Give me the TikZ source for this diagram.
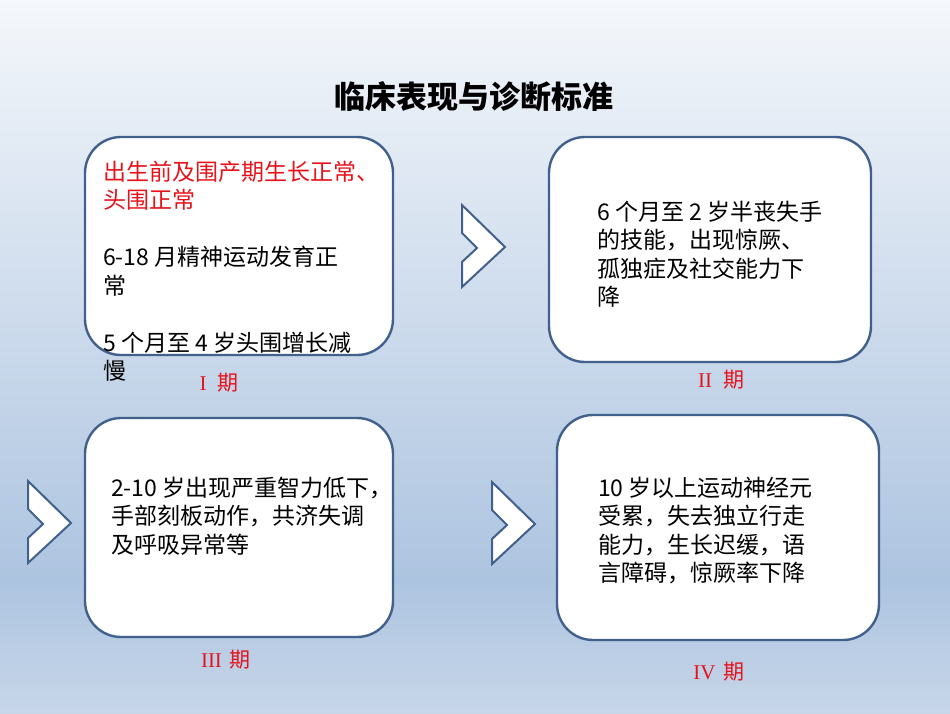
\documentclass[tikz,border=0pt]{standalone}
\usepackage{fontspec}
\setmainfont{Liberation Serif}
\newfontfamily\cjk{Noto Sans CJK SC}
\definecolor{bordo}{HTML}{41618C}
\definecolor{rosso}{HTML}{E5141C}
\definecolor{cielo}{HTML}{F4F7FB}
\definecolor{mezzo}{HTML}{ADC4E0}
\definecolor{fondo}{HTML}{C7D6E9}
\begin{document}
\begin{tikzpicture}[x=1pt, y=-1pt,
    fase/.style={draw=bordo, line width=2.4pt, fill=white, rounded corners=36pt},
    testo/.style={anchor=north west, align=left, inner sep=0pt, font=\cjk\fontsize{23}{28.5}\selectfont},
    etichetta/.style={text=rosso, inner sep=0pt, font=\fontsize{21}{21}\selectfont},
    freccia/.style={draw=bordo, line width=2pt, fill=white, line join=miter}
]
\useasboundingbox (0,0) rectangle (950,713);
% Sfondo
\shade[top color=cielo, bottom color=mezzo] (0,0) rectangle (950,580);
\shade[top color=mezzo, bottom color=fondo] (0,580) rectangle (950,713);

% Titolo
\node[font=\cjk\bfseries\fontsize{31}{31}\selectfont] (titolo) at (474,97) {临床表现与诊断标准};

% Riquadri
\node[fase, minimum width=308pt, minimum height=218pt] (f1) at (239,246) {};
\node[fase, minimum width=322pt, minimum height=225pt] (f2) at (710,249.5) {};
\node[fase, minimum width=308pt, minimum height=219pt] (f3) at (239,527.5) {};
\node[fase, minimum width=322pt, minimum height=225pt] (f4) at (718,527.5) {};

% Frecce
\foreach \x/\y in {462/205, 28/481, 492/482}
  \draw[freccia] (\x,\y) -- ++(0,28) -- ++(15,15) -- ++(-15,14) -- ++(0,25) -- ++(43,-40) -- cycle;

% Testi
\node[testo] (t1) at (103,160.5) {\textcolor{rosso}{出生前及围产期生长正常、}\\
\textcolor{rosso}{头围正常}\\[28.5pt]
6-18 月精神运动发育正\\
常\\[28.5pt]
5 个月至 4 岁头围增长减\\
慢};
\node[testo] (t2) at (597,200.5) {6 个月至 2 岁半丧失手\\
的技能，出现惊厥、\\
孤独症及社交能力下\\
降};
\node[testo] (t3) at (111,476.5) {2-10 岁出现严重智力低下，\\
手部刻板动作，共济失调\\
及呼吸异常等};
\node[testo] (t4) at (598,476.5) {10 岁以上运动神经元\\
受累，失去独立行走\\
能力，生长迟缓，语\\
言障碍，惊厥率下降};

% Fasi
\node[etichetta] (l1) at (219,383) {I\hspace{11pt}{\cjk 期}};
\node[etichetta] (l2) at (721,380) {II\hspace{11pt}{\cjk 期}};
\node[etichetta] (l3) at (226,660) {III\hspace{8pt}{\cjk 期}};
\node[etichetta] (l4) at (719,672) {IV\hspace{8pt}{\cjk 期}};
\end{tikzpicture}
\end{document}
